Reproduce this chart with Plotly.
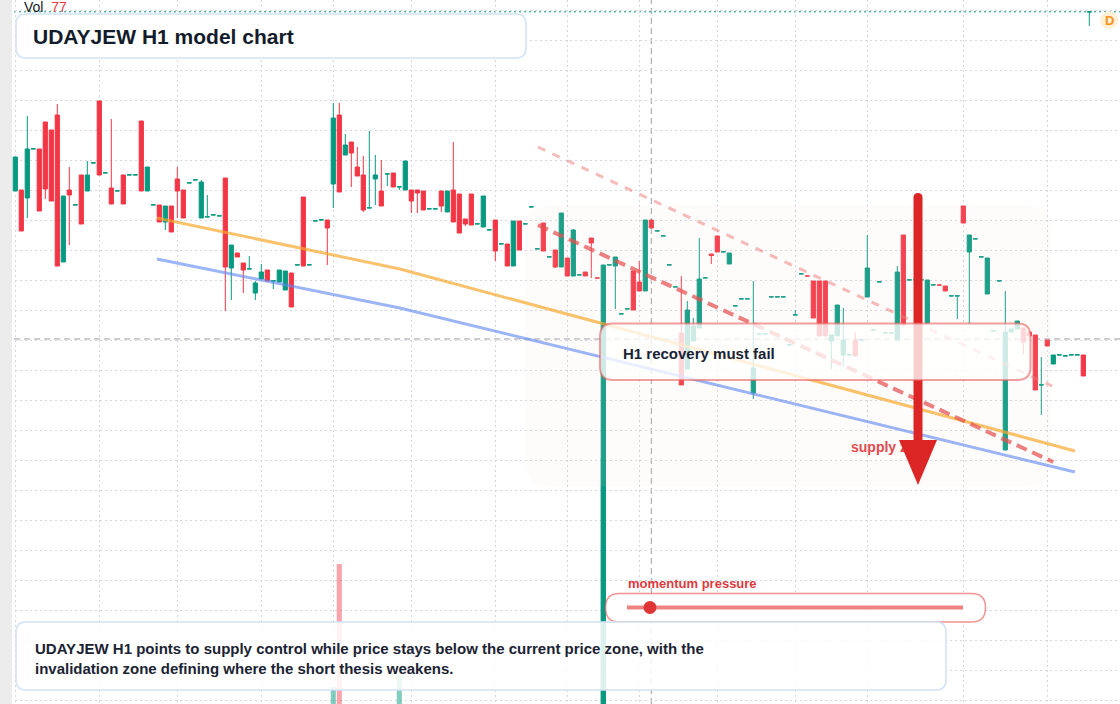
import plotly.graph_objects as go

# ---------------- data ----------------
opens = [180.9, 181.0, 180.2, 185.1, 185.1, 187.8, 187.0, 188.5, 173.8, 181.0,
         179.5, 182.5, 180.9, 183.7, 189.9, 182.7, 181.2, 180.9, 182.5, 182.5,
         182.5, 187.9, 180.9, 179.5, 179.5, 177.8, 179.4, 182.1, 181.0, 181.7,
         182.0, 178.2, 178.3, 178.5, 178.4, 182.2, 173.2, 174.7, 173.7, 173.1,
         170.7, 172.1, 173.0, 171.9, 171.8, 171.0, 172.7, 173.5, 180.3, 173.5,
         177.9, 178.0, 178.0, 181.6, 188.5, 184.5, 185.8, 183.3, 182.5, 179.2,
         182.1, 180.9, 182.6, 182.7, 181.3, 181.0, 181.0, 181.0, 180.9, 179.1,
         179.1, 180.9, 178.8, 181.0, 180.6, 178.1, 180.6, 177.6, 177.3, 177.0,
         178.0, 175.6, 175.6, 173.4, 177.9, 177.6, 179.3, 175.1, 177.7, 174.3,
         175.0, 173.3, 174.2, 172.4, 172.5, 172.8, 176.2, 172.2, 124.0, 173.5,
         173.4, 168.6, 169.1, 172.9, 171.8, 170.9, 178.0, 176.9, 176.4, 173.5,
         171.3, 166.7, 163.1, 165.9, 167.2, 172.2, 174.6, 176.4, 174.8, 173.6,
         169.4, 170.1, 170.1, 160.7, 166.6, 166.6, 170.3, 170.3, 170.3, 165.5,
         168.5, 172.6, 172.4, 171.9, 171.9, 171.9, 165.9, 166.4, 164.5, 164.5,
         166.0, 166.0, 170.3, 167.0, 171.8, 166.7, 166.7, 166.0, 176.5, 172.0,
         172.0, 172.0, 167.7, 171.5, 171.5, 171.4, 170.4, 170.4, 179.4, 174.8,
         176.1, 174.3, 170.6, 166.9, 171.9, 155.0, 166.8, 167.1, 167.2, 166.8,
         166.5, 161.5, 166.0, 163.6, 164.5, 164.4, 164.5, 164.5, 164.5, 198.8]

highs = [184.3, 181.0, 188.4, 185.12, 185.1, 187.8, 187.0, 189.6, 180.4, 183.3,
         179.52, 182.5, 183.9, 183.72, 189.9, 182.72, 188.1, 180.92, 182.5, 182.52,
         182.52, 187.9, 183.3, 179.52, 179.5, 179.4, 179.4, 183.3, 181.0, 181.72,
         182.02, 182.0, 180.5, 178.52, 178.42, 182.2, 175.5, 174.7, 173.7, 174.4,
         171.9, 173.6, 173.0, 171.92, 173.0, 172.9, 172.7, 173.52, 180.3, 173.52,
         177.92, 178.02, 178.0, 189.7, 189.7, 186.6, 185.8, 185.3, 184.4, 186.9,
         184.5, 184.0, 182.62, 182.7, 181.32, 183.9, 181.0, 181.0, 180.9, 179.12,
         179.12, 180.9, 180.9, 185.8, 180.6, 178.1, 180.6, 177.62, 180.4, 177.1,
         178.0, 175.62, 175.6, 177.9, 177.9, 177.62, 179.32, 175.12, 177.7, 174.32,
         175.0, 178.7, 174.2, 177.1, 172.52, 172.8, 176.2, 172.2, 173.5, 173.52,
         174.3, 168.62, 169.12, 172.9, 173.9, 178.0, 178.0, 176.92, 176.42, 173.52,
         171.32, 172.4, 169.9, 168.2, 176.2, 172.22, 174.6, 176.4, 174.82, 174.7,
         169.42, 170.12, 170.12, 171.9, 166.62, 166.62, 170.32, 170.32, 170.32, 165.52,
         169.0, 172.62, 172.4, 171.9, 171.9, 171.9, 166.5, 169.5, 169.2, 164.52,
         166.8, 166.02, 176.5, 167.02, 171.82, 166.72, 166.72, 173.4, 176.5, 172.02,
         172.02, 172.02, 172.0, 171.52, 171.5, 171.4, 170.42, 170.42, 179.4, 176.5,
         176.12, 174.32, 174.2, 166.92, 171.92, 170.9, 167.1, 167.9, 167.2, 166.8,
         166.5, 164.3, 166.0, 164.5, 164.52, 164.42, 164.52, 164.52, 164.5, 198.82]

lows = [180.9, 176.9, 178.2, 185.1, 178.9, 180.1, 179.9, 173.4, 173.8, 175.5,
        179.5, 177.6, 180.9, 183.7, 182.5, 182.7, 179.6, 180.9, 179.6, 182.5,
        182.5, 180.9, 180.9, 179.5, 177.8, 177.0, 176.8, 178.2, 178.2, 181.7,
        182.0, 178.2, 178.3, 178.5, 178.4, 168.9, 170.0, 174.3, 170.7, 173.1,
        170.0, 172.1, 171.9, 171.1, 171.8, 171.0, 169.3, 173.5, 173.4, 173.5,
        177.9, 178.0, 173.5, 179.2, 180.8, 184.5, 181.3, 182.4, 178.8, 179.2,
        179.5, 179.4, 181.4, 181.3, 181.0, 181.0, 178.7, 178.7, 179.0, 179.1,
        179.1, 178.8, 178.8, 177.8, 176.7, 177.4, 177.5, 177.6, 177.3, 177.0,
        173.9, 175.6, 173.4, 173.4, 175.0, 177.6, 179.3, 175.1, 174.9, 174.3,
        173.2, 173.3, 172.4, 172.4, 172.5, 172.4, 172.2, 172.2, 124.0, 173.5,
        169.1, 168.6, 169.1, 169.0, 170.9, 170.9, 177.2, 176.9, 176.4, 173.5,
        171.3, 161.5, 163.1, 165.9, 167.2, 172.2, 173.6, 174.8, 174.8, 173.6,
        169.4, 170.1, 170.1, 160.1, 166.6, 166.6, 170.3, 170.3, 170.3, 165.5,
        168.5, 172.6, 172.4, 168.2, 166.4, 166.4, 163.1, 166.4, 163.4, 164.5,
        164.4, 166.0, 170.3, 167.0, 171.8, 166.7, 166.7, 166.0, 167.5, 172.0,
        172.0, 172.0, 167.7, 171.5, 171.5, 170.9, 170.4, 168.1, 177.7, 167.6,
        176.1, 174.3, 170.6, 166.9, 171.9, 155.0, 166.8, 167.1, 164.6, 166.4,
        161.0, 158.5, 165.4, 163.6, 164.5, 164.4, 164.5, 164.5, 162.4, 197.4]

closes = [184.3, 176.9, 185.1, 185.12, 178.9, 181.1, 179.9, 173.4, 180.4, 180.5,
          179.52, 177.6, 182.5, 183.72, 182.5, 182.72, 179.6, 180.92, 179.6, 182.52,
          182.52, 180.9, 183.3, 179.52, 177.8, 179.4, 176.8, 180.9, 178.2, 181.72,
          182.02, 181.8, 178.32, 178.52, 178.42, 173.3, 175.5, 174.3, 173.0, 173.12,
          171.7, 172.8, 171.9, 171.92, 173.0, 172.9, 169.3, 173.52, 173.4, 173.52,
          177.92, 178.02, 177.2, 188.2, 180.8, 185.5, 184.7, 182.4, 179.0, 179.22,
          182.5, 179.4, 182.62, 181.3, 181.32, 183.9, 179.9, 180.7, 179.0, 179.12,
          179.12, 179.4, 180.9, 177.8, 176.7, 177.6, 177.5, 177.62, 180.4, 177.02,
          174.9, 175.62, 173.4, 177.9, 175.0, 177.62, 179.32, 175.12, 174.9, 174.32,
          173.3, 178.7, 172.4, 177.0, 172.52, 172.4, 175.7, 172.2, 173.5, 173.52,
          174.3, 168.62, 169.12, 169.0, 170.9, 178.0, 177.2, 176.92, 176.42, 173.52,
          171.32, 161.5, 169.0, 167.4, 172.1, 172.22, 174.45, 174.8, 174.82, 174.7,
          169.42, 170.12, 170.12, 163.2, 166.62, 166.62, 170.32, 170.32, 170.32, 165.52,
          168.52, 172.62, 172.4, 168.2, 166.4, 166.4, 166.5, 169.5, 166.0, 164.52,
          164.4, 166.02, 173.2, 167.02, 171.82, 166.72, 166.72, 172.8, 167.5, 172.02,
          172.02, 172.02, 172.0, 171.52, 171.5, 170.9, 170.42, 170.42, 177.7, 176.5,
          176.12, 174.32, 174.2, 166.92, 171.92, 166.8, 167.1, 167.9, 165.8, 166.4,
          161.0, 161.52, 165.4, 164.5, 164.52, 164.42, 164.52, 164.52, 162.4, 198.82]

bars = list(range(len(opens)))

# visible volume bars (the rest sit below the cropped bottom edge)
vol_bars = [53, 54, 64, 98]
vol_values = [42.4, 59.9, 44.0, 75.0]
last_volume_label = "77"

# vertical grid (session boundaries, as bar numbers)
grid_bars = [0, 14, 27, 41, 53, 66, 80, 92, 104, 117, 130, 142, 158, 172]

# drawn trend lines: (bar, price) points
orange_line = [(23.6, 178.2), (64.1, 173.1), (176.6, 154.9)]
blue_line = [(23.6, 174.1), (64.1, 169.2), (176.6, 152.8)]
upper_dash = [(87.1, 185.3), (172.8, 161.4)]
lower_dash = [(87.1, 177.5), (173.0, 153.8)]
crosshair_bar = 106
crosshair_price = 166.1

title_text = "UDAYJEW H1 model chart"
box_text = "H1 recovery must fail"
zone_text = "supply zone"
slider_text = "momentum pressure"
caption_lines = ["UDAYJEW H1 points to supply control while price stays below the current price zone, with the",
                 "invalidation zone defining where the short thesis weakens."]

# ---------------- layout helpers ----------------
W, H = 1120, 704
X_LO, X_HI = -2.55, -2.55 + W / 6.0
P_LO, P_HI = 129.6, 200.0
TEAL = "#089981"
RED = "#f23645"
FONT = "Liberation Sans, Arial, sans-serif"


def xp(px):
    return px / W


def yp(py):
    return 1 - py / H


def P(x, y):
    return f"{xp(x):.5f},{yp(y):.5f}"


def rrect(x0, y0, x1, y1, r):
    return (f"M{P(x0 + r, y0)} L{P(x1 - r, y0)} Q{P(x1, y0)} {P(x1, y0 + r)} "
            f"L{P(x1, y1 - r)} Q{P(x1, y1)} {P(x1 - r, y1)} L{P(x0 + r, y1)} "
            f"Q{P(x0, y1)} {P(x0, y1 - r)} L{P(x0, y0 + r)} Q{P(x0, y0)} {P(x0 + r, y0)} Z")


def data_path(pts):
    return "M" + " L".join(f"{a},{b}" for a, b in pts)


fig = go.Figure()

vol_colors = ["rgba(8,153,129,0.5)" if closes[i] > opens[i] else "rgba(242,54,69,0.45)" for i in vol_bars]
fig.add_trace(go.Bar(x=vol_bars, y=vol_values, base=0, width=0.85, marker=dict(color=vol_colors, line_width=0),
                     yaxis="y", hoverinfo="skip", showlegend=False))

fig.add_trace(go.Candlestick(
    x=bars, open=opens, high=highs, low=lows, close=closes, yaxis="y2",
    increasing=dict(line=dict(color=TEAL, width=1), fillcolor=TEAL),
    decreasing=dict(line=dict(color=RED, width=1), fillcolor=RED),
    whiskerwidth=0, showlegend=False, hoverinfo="skip"))

# "supply zone" label sits under the arrow head
fig.add_trace(go.Scatter(x=[X_LO + 851 / 6.0], y=[P_HI - 448 / 10.0], mode="text", text=[f"<b>{zone_text}</b>"],
                         textposition="middle right", textfont=dict(family=FONT, size=14, color="#e23a3e"),
                         yaxis="y2", hoverinfo="skip", showlegend=False))

shapes = []
# left gray strip
shapes.append(dict(type="rect", xref="paper", yref="paper", x0=0, x1=xp(12), y0=0, y1=1,
                   fillcolor="#ececec", line_width=0, layer="above"))
# crosshair
shapes.append(dict(type="line", xref="x", yref="paper", x0=crosshair_bar, x1=crosshair_bar, y0=0, y1=1,
                   line=dict(color="#9a9da6", width=1, dash="6px,4px"), layer="between"))
shapes.append(dict(type="line", xref="paper", yref="y2", x0=xp(14), x1=1, y0=crosshair_price, y1=crosshair_price,
                   line=dict(color="#9a9da6", width=1, dash="6px,4px"), layer="between"))
# last price line
shapes.append(dict(type="line", xref="paper", yref="y2", x0=xp(14), x1=1, y0=closes[-1], y1=closes[-1],
                   line=dict(color=TEAL, width=1, dash="2px,3px"), layer="between"))
# zone
shapes.append(dict(type="path", xref="paper", yref="paper", path=rrect(525, 205, 1051, 486, 24),
                   fillcolor="rgba(240,222,208,0.09)", line_width=0, layer="above"))
# trend lines
shapes.append(dict(type="path", xref="x", yref="y2", path=data_path(orange_line),
                   line=dict(color="rgba(248,168,45,0.7)", width=3), layer="above"))
shapes.append(dict(type="path", xref="x", yref="y2", path=data_path(blue_line),
                   line=dict(color="rgba(95,135,240,0.62)", width=3), layer="above"))
shapes.append(dict(type="path", xref="x", yref="y2", path=data_path(upper_dash),
                   line=dict(color="rgba(238,120,120,0.5)", width=3, dash="8px,8px"), layer="above"))
shapes.append(dict(type="path", xref="x", yref="y2", path=data_path(lower_dash),
                   line=dict(color="rgba(228,80,80,0.72)", width=4, dash="11px,6px"), layer="above"))
# arrow
shapes.append(dict(type="path", xref="paper", yref="paper",
                   path=(f"M{P(913.5, 441)} L{P(913.5, 197.5)} Q{P(913.5, 193)} {P(918, 193)} "
                         f"Q{P(922.5, 193)} {P(922.5, 197.5)} L{P(922.5, 441)} Z"),
                   fillcolor="#dc2626", line_width=0, layer="above"))
shapes.append(dict(type="path", xref="paper", yref="paper",
                   path=f"M{P(899, 440)} L{P(937, 440)} L{P(918, 485)} Z",
                   fillcolor="#dc2626", line_width=0, layer="above"))
# H1 box
shapes.append(dict(type="path", xref="paper", yref="paper", path=rrect(600, 323.5, 1030.5, 380, 13),
                   fillcolor="rgba(255,255,255,0.78)", line=dict(color="rgba(232,95,95,0.6)", width=2), layer="above"))
# title box
shapes.append(dict(type="path", xref="paper", yref="paper", path=rrect(16, 14, 526, 58, 10),
                   fillcolor="rgba(255,255,255,0.97)", line=dict(color="#d3e2f6", width=1.5), layer="above"))
# momentum slider
shapes.append(dict(type="path", xref="paper", yref="paper", path=rrect(605.5, 593.5, 985.5, 622, 14),
                   fillcolor="rgba(255,255,255,0.92)", line=dict(color="rgba(232,80,80,0.62)", width=1.5), layer="above"))
shapes.append(dict(type="line", xref="paper", yref="paper", x0=xp(627), x1=xp(963), y0=yp(607.5), y1=yp(607.5),
                   line=dict(color="rgba(235,100,100,0.8)", width=4), layer="above"))
shapes.append(dict(type="circle", xref="paper", yref="paper", x0=xp(643.5), x1=xp(656.5), y0=yp(601), y1=yp(614),
                   fillcolor="#e03535", line_width=0, layer="above"))
# caption box
shapes.append(dict(type="path", xref="paper", yref="paper", path=rrect(16, 622, 946, 690, 10),
                   fillcolor="rgba(255,255,255,0.86)", line=dict(color="#d3e2f6", width=1.5), layer="above"))
# D badge
shapes.append(dict(type="circle", xref="paper", yref="paper", x0=xp(1100), x1=xp(1118), y0=yp(11), y1=yp(29),
                   fillcolor="#fff0d6", line_width=0, layer="above"))

annotations = [
    dict(x=xp(22), y=yp(7), xref="paper", yref="paper", xanchor="left", yanchor="middle", showarrow=False,
         text=f"Vol  <span style='color:{RED}'>{last_volume_label}</span>",
         font=dict(family=FONT, size=14, color="#131722")),
    dict(x=xp(31), y=yp(36), xref="paper", yref="paper", xanchor="left", yanchor="middle", showarrow=False,
         text=f"<b>{title_text}</b>", font=dict(family=FONT, size=21, color="#131c2b")),
    dict(x=xp(621), y=yp(353), xref="paper", yref="paper", xanchor="left", yanchor="middle", showarrow=False,
         text=f"<b>{box_text}</b>", font=dict(family=FONT, size=15, color="#182233")),
    dict(x=xp(626), y=yp(583), xref="paper", yref="paper", xanchor="left", yanchor="middle", showarrow=False,
         text=f"<b>{slider_text}</b>", font=dict(family=FONT, size=13, color="#e03a3e")),
    dict(x=xp(33), y=yp(648), xref="paper", yref="paper", xanchor="left", yanchor="middle", showarrow=False,
         text=f"<b>{caption_lines[0]}</b>", font=dict(family=FONT, size=15, color="#1b2333")),
    dict(x=xp(33), y=yp(668), xref="paper", yref="paper", xanchor="left", yanchor="middle", showarrow=False,
         text=f"<b>{caption_lines[1]}</b>", font=dict(family=FONT, size=15, color="#1b2333")),
    dict(x=xp(1109), y=yp(20), xref="paper", yref="paper", xanchor="center", yanchor="middle", showarrow=False,
         text="<b>D</b>", font=dict(family=FONT, size=13, color="#f7931a")),
]

fig.update_layout(
    width=W, height=H, autosize=False,
    margin=dict(l=0, r=0, t=0, b=0, pad=0),
    paper_bgcolor="white", plot_bgcolor="white",
    showlegend=False, boxgap=0.3, boxgroupgap=0,
    shapes=shapes, annotations=annotations,
    xaxis=dict(range=[X_LO, X_HI], tickmode="array", tickvals=grid_bars, showticklabels=False,
               showgrid=True, gridcolor="#d4d7de", griddash="2px,3px", gridwidth=1,
               zeroline=False, showline=False, rangeslider=dict(visible=False), fixedrange=True),
    yaxis=dict(range=[40, 140], visible=False, fixedrange=True),
    yaxis2=dict(range=[P_LO, P_HI], overlaying="y", side="right", tick0=198.93, dtick=3,
                showticklabels=False, showgrid=True, gridcolor="#d4d7de", griddash="2px,3px", gridwidth=1,
                zeroline=False, showline=False, fixedrange=True),
)

fig.write_html("out.html", config={"displayModeBar": False},
               post_script="document.body.style.margin='0';document.body.style.overflow='hidden';")
